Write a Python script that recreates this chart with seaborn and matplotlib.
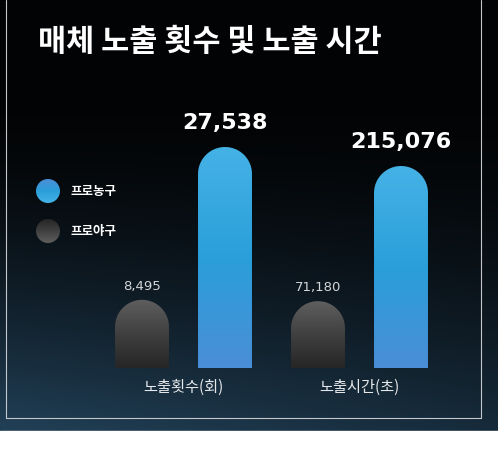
import numpy as np
import pandas as pd
import seaborn as sns
import matplotlib.pyplot as plt
from matplotlib.path import Path
from matplotlib.patches import PathPatch, Circle
from matplotlib.colors import LinearSegmentedColormap

# data
groups = ['노출횟수(회)', '노출시간(초)']
series = ['프로야구', '프로농구']
baseball = [8495, 71180]
basketball = [27538, 215076]

W, H = 498, 457
sns.set_theme(style='white')
plt.rcParams['font.family'] = ['Noto Sans CJK KR', 'DejaVu Sans']

fig = plt.figure(figsize=(W / 100, H / 100), dpi=100)

# background
bg = fig.add_axes([0, 0, 1, 1], zorder=-5)
yy = np.linspace(0, 1, 200)[:, None]
xx = np.linspace(0, 1, 200)[None, :]
top = np.array([0.01, 0.015, 0.02])
bot = np.array([0.13, 0.25, 0.34])
t = np.clip((yy - 0.25) / 0.75, 0, 1) ** 1.5
shade = 1 - 0.35 * xx
img = top + (bot - top) * (t * shade)[..., None]
bg.imshow(img, extent=(0, W, 431, 0), aspect='auto', interpolation='bilinear')
bg.add_patch(plt.Rectangle((0, 431), W, 30, color='white'))
bg.plot([6, 6, 481, 481], [0, 418, 418, 0], color='#c4c8cc', lw=0.8)
bg.set_xlim(0, W)
bg.set_ylim(H, 0)
bg.axis('off')

bg.text(38, 42, '매체 노출 횟수 및 노출 시간', color='white', fontsize=22,
        fontweight='bold', va='center', ha='left')

blue_cmap = LinearSegmentedColormap.from_list('b', ['#4a8ed6', '#2a9fda', '#45b2e6'])
gray_cmap = LinearSegmentedColormap.from_list('g', ['#262626', '#404040', '#5e5e5e'])

# legend
for (cy, label, cm) in [(191, series[1], blue_cmap), (231, series[0], gray_cmap)]:
    c = Circle((48, cy), 12, facecolor='none', edgecolor='none')
    bg.add_patch(c)
    im = bg.imshow(np.linspace(0, 1, 50)[:, None], cmap=cm, origin='upper',
                   extent=(36, 60, cy + 12, cy - 12), aspect='auto')
    im.set_clip_path(c)
    bg.text(70, cy, label, color='white', fontsize=9, fontweight='bold',
            va='center', ha='left')
bg.set_xlim(0, W)
bg.set_ylim(H, 0)

ymaxes = [27538 * 268 / 221, 215076 * 268 / 202]
lefts = [100.5, 276.5]
ax_w, ax_h, ax_b = 166, 268, H - 368

for i, g in enumerate(groups):
    ax = fig.add_axes([lefts[i] / W, ax_b / H, ax_w / W, ax_h / H])
    df = pd.DataFrame({'series': series, 'value': [baseball[i], basketball[i]]})
    sns.barplot(data=df, x='series', y='value', hue='series', order=series,
                hue_order=series, palette=['#444444', '#3aa7e3'], width=0.65,
                legend=False, ax=ax)
    ax.set_xlim(-0.5, 1.5)
    ax.set_ylim(0, ymaxes[i])
    ppx = ax_w / 2.0
    ppy = ax_h / ymaxes[i]
    for p in list(ax.patches):
        x0, w, h = p.get_x(), p.get_width(), p.get_height()
        p.set_visible(False)
        rx = w / 2
        ry = rx * ppx / ppy
        ang = np.linspace(np.pi, 0, 60)
        arc = np.column_stack([x0 + rx + rx * np.cos(ang), h - ry + ry * np.sin(ang)])
        verts = np.vstack([[x0, 0], [x0, h - ry], arc, [x0 + w, h - ry], [x0 + w, 0], [x0, 0]])
        path = Path(verts)
        shape = PathPatch(path, facecolor='none', edgecolor='none')
        ax.add_patch(shape)
        cm = blue_cmap if h == basketball[i] else gray_cmap
        im = ax.imshow(np.linspace(0, 1, 100)[:, None], cmap=cm, origin='lower',
                       extent=(x0, x0 + w, 0, h), aspect='auto')
        im.set_clip_path(shape)
    ax.set_xlim(-0.5, 1.5)
    ax.set_ylim(0, ymaxes[i])
    ax.bar_label(ax.containers[0], fmt='{:,.0f}', padding=5, fontsize=9.5,
                 color='#d4d6d8', family='DejaVu Sans')
    ax.bar_label(ax.containers[1], fmt='{:,.0f}', padding=10, fontsize=16,
                 color='white', fontweight='bold', family='DejaVu Sans')
    ax.set_xticks([])
    ax.set_yticks([])
    ax.set_ylabel('')
    ax.set_xlabel(g, color='#e6e8ea', fontsize=11, labelpad=8)
    ax.patch.set_alpha(0)
    for s in ax.spines.values():
        s.set_visible(False)

fig.savefig('out.png', dpi=100)
